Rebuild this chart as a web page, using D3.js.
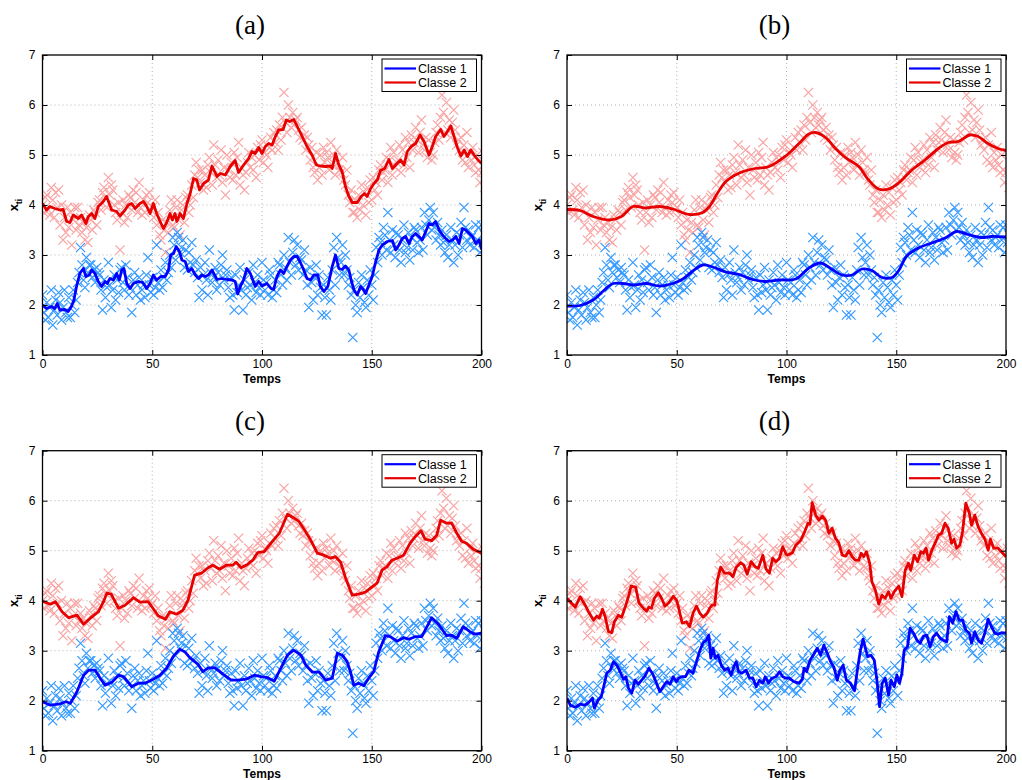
<!DOCTYPE html>
<html><head><meta charset="utf-8">
<script src="https://cdn.jsdelivr.net/npm/d3@7"></script>
<style>
body{margin:0;background:#fff;}
svg{display:block;}
text{font-family:"Liberation Sans",Arial,sans-serif;}
</style></head>
<body>
<svg id="chart" width="1022" height="780"></svg>
<script>
// ---------------- DATA ----------------
const panelLabels = ["(a)", "(b)", "(c)", "(d)"];
const seriesNames = ["Classe 1", "Classe 2"];
const xTicks = [0, 50, 100, 150, 200];
const yTicks = [1, 2, 3, 4, 5, 6, 7];
const xLabel = "Temps";

// observations: three per time step (t = 0,2,...,200)
const obsTimes = d3.range(0, 201, 2);
const obsClass2 = [
[4.0,3.85,4.15],[4.2,3.9,3.8],[4.35,4.1,3.75],[4.25,3.95,4.3],[3.6,4.0,3.3],[3.75,3.45,3.95],[3.55,3.85,3.2],[3.7,3.95,3.5],[3.95,3.6,3.75],[3.45,3.65,3.3],
[3.55,3.25,3.8],[3.7,3.5,3.9],[3.85,3.6,4.05],[4.1,3.9,4.25],[4.35,4.15,3.95],[4.55,4.2,4.4],[4.3,4.0,3.85],[3.7,4.05,3.1],[3.85,4.1,3.65],[4.0,3.75,4.2],
[4.15,3.9,4.3],[4.05,4.25,3.85],[4.45,3.95,3.8],[4.1,3.85,4.2],[4.05,4.25,3.9],[3.95,3.75,4.1],[3.6,3.85,3.4],[3.3,3.7,3.5],[3.05,3.65,3.45],[3.9,4.1,3.6],
[3.55,3.95,4.1],[3.7,3.4,3.9],[4.0,3.65,4.15],[4.2,3.85,4.0],[4.4,4.15,4.6],[4.85,4.55,4.7],[4.45,4.7,4.3],[4.6,4.35,4.8],[4.95,4.65,4.4],[5.2,4.8,4.55],
[4.9,4.6,5.1],[4.45,4.75,4.2],[5.0,4.7,4.55],[4.85,4.5,5.05],[4.6,4.95,5.25],[4.4,4.75,4.6],[4.3,4.65,4.85],[5.05,4.75,4.95],[4.7,5.0,4.55],[5.15,4.9,5.2],
[5.3,4.85,5.05],[5.0,4.75,5.15],[5.35,5.1,5.45],[5.25,5.5,5.1],[5.6,5.3,5.75],[6.25,5.65,5.45],[6.0,5.75,5.55],[5.85,5.6,5.7],[5.75,5.5,5.35],[5.55,5.3,5.4],
[5.1,5.35,5.2],[4.9,5.15,4.75],[4.65,5.05,4.5],[4.75,5.0,4.6],[5.15,4.85,5.05],[4.95,4.7,5.25],[4.8,5.0,4.6],[5.1,4.85,4.7],[4.65,4.95,4.5],[4.4,4.7,4.2],
[4.05,4.3,3.85],[3.85,4.1,3.75],[4.2,3.9,4.4],[4.0,4.25,3.8],[4.35,4.05,4.5],[4.1,4.55,4.3],[4.45,4.2,4.7],[4.8,4.5,4.65],[4.7,4.95,4.45],[4.9,5.15,4.6],
[5.05,4.75,4.85],[4.9,5.2,4.65],[5.1,4.8,5.35],[4.95,5.25,4.75],[5.4,5.1,5.25],[5.55,5.3,5.05],[5.45,5.7,5.2],[5.1,5.35,4.95],[5.3,5.05,4.9],[5.0,5.25,5.45],
[5.6,5.3,5.75],[6.2,5.85,5.45],[6.05,5.5,5.7],[5.35,5.65,5.9],[5.5,5.2,5.3],[5.1,5.35,4.9],[5.2,4.85,5.45],[4.75,5.05,4.9],[5.15,4.8,4.65],[5.0,4.7,4.45],
[4.65,5.05,4.35]];
const obsClass1 = [
[2.2,1.85,1.7],[2.05,1.75,1.95],[2.3,1.6,1.9],[2.1,1.8,2.25],[2.05,1.7,1.95],[2.3,1.85,1.75],[2.15,1.75,2.0],[2.3,1.85,2.1],[2.45,2.65,3.15],[2.8,2.5,2.35],
[2.95,2.65,2.8],[2.8,2.55,2.7],[2.45,2.75,2.65],[2.6,2.3,1.9],[2.5,2.15,2.35],[2.85,2.4,1.95],[2.3,2.6,2.1],[2.5,2.25,2.7],[2.75,2.45,2.3],[2.8,2.55,2.2],
[2.35,1.85,2.5],[2.65,2.2,2.4],[2.55,2.1,2.3],[2.4,2.15,2.6],[2.95,2.4,2.25],[2.55,2.2,2.35],[3.2,2.45,2.3],[2.7,2.35,2.55],[2.85,2.5,2.65],[3.0,2.75,3.35],
[3.2,2.9,3.45],[3.35,3.05,3.15],[3.3,2.75,3.1],[2.7,3.05,2.85],[3.25,2.8,2.65],[2.9,2.55,2.15],[2.75,2.3,2.6],[2.85,2.5,2.2],[3.1,2.65,2.45],[2.55,2.75,2.3],
[2.65,2.4,2.8],[3.0,2.5,2.6],[2.7,2.35,2.15],[2.55,2.2,1.9],[2.6,2.25,2.4],[2.75,2.3,1.9],[2.5,2.2,2.35],[2.65,2.4,2.1],[2.8,2.45,2.25],[2.6,2.35,2.2],
[2.85,2.5,2.3],[2.45,2.2,2.7],[2.6,2.15,2.3],[2.5,2.25,2.85],[2.8,2.6,2.4],[3.0,2.75,2.5],[3.35,2.85,2.6],[3.05,3.3,2.8],[3.2,2.7,2.95],[2.9,2.6,3.1],
[2.7,2.4,1.95],[2.75,2.45,2.1],[2.55,2.8,2.2],[2.6,2.35,1.8],[2.4,2.15,1.8],[2.55,2.3,2.1],[2.7,3.15,2.4],[3.35,2.95,2.6],[2.85,3.2,2.6],[3.0,2.7,2.4],
[2.55,2.2,1.35],[2.3,2.0,1.85],[2.45,2.15,2.6],[2.35,2.05,1.95],[2.5,2.2,2.7],[2.4,2.1,2.6],[3.15,2.85,3.35],[3.25,3.0,3.55],[3.4,3.1,3.85],[3.3,3.05,3.5],
[3.2,2.95,3.45],[3.4,3.1,2.85],[3.3,3.6,3.05],[3.15,3.45,2.9],[3.35,3.1,3.55],[3.5,3.25,3.05],[3.3,3.55,3.1],[3.85,3.6,3.4],[3.7,3.95,3.5],[3.85,3.55,3.3],
[3.65,3.4,3.2],[3.5,3.25,3.05],[3.4,2.95,3.2],[3.55,3.3,2.85],[3.2,3.45,3.0],[3.4,3.65,3.15],[3.95,3.55,3.3],[3.5,3.2,3.35],[3.4,3.15,3.6],[3.3,3.55,3.05],
[3.6,3.25,3.4]];

// fitted trajectories [t, value]
const fitA1 = [[0,2.0],[1.8,1.93],[4.1,1.97],[5.6,1.93],[6.7,2.03],[7.9,1.9],[10.2,1.91],[11.7,1.87],[13.2,1.97],[14.3,2.1],[15.5,2.37],[17,2.63],[18.6,2.73],[19.8,2.57],[21.3,2.6],[22.4,2.7],[23.9,2.63],[25.4,2.47],[26.9,2.37],[28.5,2.47],[29.5,2.43],[30.7,2.53],[32.3,2.5],[33.8,2.63],[35,2.5],[36.1,2.7],[37.1,2.73],[38.4,2.43],[39.9,2.33],[41.4,2.43],[43.7,2.47],[45.7,2.45],[47.5,2.33],[49,2.43],[50.5,2.6],[52,2.5],[53.9,2.57],[55.9,2.57],[57.4,2.7],[58.4,3.0],[59.7,3.03],[60.9,3.17],[62.4,3.07],[63.5,2.9],[65,2.87],[66.5,2.67],[68,2.73],[69.6,2.6],[71.1,2.53],[72.6,2.6],[74.1,2.57],[75.6,2.6],[77.2,2.7],[79.5,2.51],[81.7,2.53],[84,2.51],[86.3,2.5],[87.8,2.47],[88.9,2.22],[90.1,2.37],[91.6,2.5],[93.1,2.73],[94.7,2.63],[96.9,2.37],[98.5,2.47],[100,2.38],[102.3,2.43],[104.1,2.33],[105.3,2.31],[106.8,2.57],[108.4,2.7],[109.9,2.63],[111.4,2.77],[112.9,2.9],[114.5,2.97],[116,2.97],[117.5,2.85],[119,2.7],[120.5,2.53],[122.1,2.5],[123.6,2.6],[125.4,2.6],[126.6,2.37],[128.2,2.27],[130,2.37],[132,2.77],[133.5,3.0],[135,2.73],[136.5,2.71],[138,2.78],[139.6,2.7],[140.6,2.5],[141.9,2.3],[143.4,2.2],[144.9,2.37],[146.1,2.31],[147.2,2.23],[148.7,2.4],[150.2,2.57],[151.7,2.85],[153.3,3.1],[154.8,3.2],[157.1,3.27],[159.4,3.29],[160.9,3.1],[162.4,3.2],[163.9,3.33],[165.4,3.37],[167,3.23],[168.5,3.37],[170,3.43],[171.5,3.37],[173,3.3],[174.6,3.47],[176.1,3.63],[177.6,3.6],[179.1,3.67],[180.7,3.5],[182.2,3.4],[183.7,3.33],[185.2,3.27],[186.8,3.3],[188.3,3.37],[189.8,3.23],[191.3,3.53],[192.8,3.5],[194.4,3.43],[195.9,3.37],[197.4,3.23],[198.9,3.3],[200,3.11]];
const fitA2 = [[0,4.03],[1.8,3.9],[3.3,3.97],[5.6,3.93],[7.9,3.9],[9.4,3.91],[11,3.67],[12.5,3.65],[14,3.8],[16.3,3.73],[17.8,3.8],[19.8,3.63],[20.9,3.77],[22.4,3.83],[23.9,3.73],[25.4,3.97],[27.7,4.07],[29.2,4.17],[31.5,3.9],[33.8,3.87],[35.3,3.78],[37.6,3.9],[39.1,4.0],[40.6,4.03],[42.2,3.93],[44.4,4.03],[46,4.07],[47.5,3.97],[49,3.83],[50.5,4.03],[52,3.83],[53.6,3.67],[55.1,3.53],[56.6,3.65],[58.1,3.83],[59.2,3.7],[60.4,3.83],[61.2,3.67],[62.7,3.83],[64.2,3.73],[65.8,4.03],[67.3,4.23],[68.8,4.53],[70.3,4.5],[71.5,4.3],[73.4,4.43],[75.6,4.5],[77.2,4.78],[79.5,4.57],[81,4.63],[83.3,4.6],[85.5,4.77],[87.8,4.89],[89.3,4.65],[91.6,4.8],[93.9,4.93],[95.4,5.07],[96.9,5.03],[98.5,5.15],[100,5.03],[101.5,5.17],[103,5.23],[104.6,5.2],[106.1,5.37],[107.6,5.5],[109.6,5.51],[111.1,5.7],[112.6,5.67],[114.5,5.71],[116.3,5.55],[118.3,5.37],[120.5,5.17],[122.8,5.0],[124.8,4.8],[126.6,4.78],[128.9,4.77],[131.2,4.78],[132,4.73],[133.5,5.03],[135,4.8],[136.5,4.67],[138,4.37],[139.6,4.17],[141.1,4.05],[143.4,4.05],[145.2,4.17],[146.7,4.23],[147.9,4.17],[149.5,4.33],[151,4.43],[152.5,4.5],[154,4.69],[155.9,4.73],[157.8,4.91],[159.4,4.73],[161.3,4.82],[163.2,4.9],[164.7,4.8],[166.2,5.07],[168,5.17],[170,5.23],[172,5.4],[173.8,5.27],[176.1,5.0],[177.6,5.17],[179.1,5.37],[181.4,5.51],[182.9,5.37],[184.2,5.45],[186,5.58],[187.5,5.37],[189,5.15],[190.6,4.98],[192.1,5.1],[193.6,4.97],[195.1,5.1],[196.6,5.0],[198.2,4.91],[200,4.83]];
const fitB1 = [[0,1.98],[5.9,1.99],[11.9,2.1],[16.5,2.28],[21,2.43],[25.5,2.43],[30.1,2.4],[36.1,2.43],[42.2,2.38],[48.2,2.43],[52.8,2.52],[57.3,2.68],[61.8,2.8],[66.4,2.76],[72.4,2.66],[78.5,2.61],[84.5,2.51],[90.6,2.47],[96.6,2.5],[104.2,2.52],[110.2,2.74],[115.5,2.84],[120.8,2.71],[125.3,2.6],[129.9,2.6],[134.4,2.72],[138.9,2.69],[143.5,2.55],[148,2.55],[151,2.68],[154.8,2.98],[160.1,3.14],[166.1,3.24],[172.2,3.34],[177.5,3.47],[182.8,3.41],[188.8,3.35],[193.4,3.37],[200,3.36]];
const fitB2 = [[0,3.91],[5.9,3.89],[11.9,3.77],[19.5,3.7],[24.8,3.77],[30.1,3.97],[36.1,3.94],[42.2,3.97],[48.2,3.92],[55.8,3.81],[61.8,3.85],[64.9,3.97],[68.6,4.24],[72.4,4.47],[78.5,4.64],[84.5,4.72],[92.1,4.77],[99.6,4.98],[105.7,5.23],[110.2,5.42],[113.2,5.45],[117.8,5.35],[122.3,5.13],[126.8,4.95],[132.9,4.77],[137.4,4.5],[141.9,4.32],[146.5,4.32],[151,4.44],[157.1,4.7],[163.1,4.9],[169.2,5.13],[173.7,5.25],[178.2,5.27],[183.5,5.4],[187.3,5.37],[191.8,5.23],[196.4,5.13],[200,5.09]];
const fitC1 = [[0,1.98],[3.6,1.91],[7.4,1.93],[10.7,1.98],[12.7,1.95],[15.7,2.18],[18.7,2.51],[21,2.61],[24,2.61],[26.3,2.45],[28.5,2.31],[31.6,2.37],[34.6,2.51],[36.9,2.48],[40.6,2.28],[43.7,2.35],[46.7,2.35],[50.5,2.43],[53.5,2.51],[56.5,2.65],[59.5,2.88],[62.5,3.03],[64.8,2.98],[67.1,2.86],[70.8,2.73],[73.1,2.58],[75.4,2.65],[78.4,2.66],[82.2,2.53],[86,2.41],[89,2.41],[92.7,2.43],[96.5,2.51],[99.5,2.48],[102.6,2.46],[105.6,2.39],[108.6,2.65],[111.6,2.91],[114.4,3.01],[117.7,2.91],[120,2.71],[123,2.57],[126,2.57],[129,2.41],[132,2.45],[134.3,2.95],[136.6,2.91],[138.8,2.78],[140.3,2.58],[141.8,2.31],[144.1,2.35],[146.4,2.3],[148.6,2.45],[150.9,2.58],[153.2,2.98],[156.2,3.3],[158.5,3.28],[161.5,3.19],[164.5,3.26],[166.8,3.23],[169.8,3.28],[172.8,3.28],[177.3,3.66],[180.4,3.53],[184.1,3.3],[186.4,3.31],[188.7,3.25],[191.7,3.48],[194.7,3.38],[197,3.33],[200,3.35]];
const fitC2 = [[0,3.99],[3.6,3.93],[5.9,3.98],[8.9,3.78],[11.9,3.66],[15.7,3.71],[18.7,3.53],[21.8,3.65],[25.5,3.78],[27.8,3.98],[29.3,4.15],[31.3,4.13],[34.6,3.85],[37.6,3.91],[41.4,4.06],[44.4,3.97],[48.2,3.98],[52.7,3.7],[56,3.63],[58,3.78],[61,3.73],[64,3.81],[66.3,4.01],[69.3,4.51],[72.4,4.55],[75.4,4.66],[77.6,4.71],[80.7,4.63],[83.7,4.71],[86.7,4.71],[88.2,4.77],[90.5,4.66],[93.5,4.73],[95.8,4.81],[98,4.96],[101,4.98],[104.1,5.15],[107.9,5.35],[111.6,5.73],[114.7,5.65],[116.9,5.58],[119.2,5.43],[122.2,5.21],[125.2,4.95],[128.2,4.91],[131.3,4.85],[133.5,4.88],[135.8,4.77],[138.1,4.45],[141.1,4.11],[144.1,4.13],[147.1,4.17],[149.4,4.25],[152.4,4.35],[154.7,4.61],[157,4.68],[159.2,4.81],[161.5,4.85],[164.5,4.91],[167.5,5.15],[169.8,5.28],[172.4,5.4],[174.3,5.23],[177.3,5.2],[179.6,5.31],[181.4,5.61],[184.1,5.55],[186.4,5.55],[188.4,5.38],[190.9,5.19],[193.2,5.15],[196.2,5.03],[200,4.95]];
const fitD1 = [[0,2.05],[1.5,1.91],[3.8,1.87],[6,1.93],[8,1.91],[9.8,1.96],[11.6,2.05],[12.5,1.85],[14.1,2.01],[15.6,2.08],[17.1,2.35],[18.1,2.55],[19.7,2.61],[21.2,2.78],[22.7,2.71],[24.2,2.58],[25.7,2.43],[26.8,2.48],[28,2.25],[29.5,2.15],[31,2.41],[32.5,2.33],[34,2.41],[35.5,2.49],[37.3,2.65],[38.9,2.55],[40.8,2.35],[42.3,2.18],[43.8,2.28],[45.4,2.38],[46.9,2.33],[48.4,2.48],[49.9,2.38],[50.9,2.45],[52.2,2.48],[54,2.48],[55.5,2.61],[57.4,2.55],[59,2.78],[60.5,3.0],[62,3.16],[63.5,3.21],[64.6,3.31],[65.5,2.85],[66.5,3.05],[67.6,2.85],[68.8,2.91],[70.3,2.71],[71.8,2.61],[73.3,2.65],[74.8,2.51],[76,2.68],[77.1,2.78],[78.2,2.58],[79.7,2.55],[81.6,2.61],[83.2,2.45],[84.7,2.45],[86.2,2.28],[87.7,2.41],[89.2,2.35],[90.3,2.48],[91.8,2.35],[93.3,2.45],[95.2,2.48],[96.8,2.58],[98.3,2.48],[99.8,2.45],[101.2,2.45],[103.4,2.38],[105.7,2.35],[107.2,2.43],[108,2.65],[109.2,2.58],[110.7,2.81],[112.2,2.91],[114,3.05],[115.5,2.91],[117,3.11],[118.6,2.95],[120.1,2.78],[121.6,2.67],[123.1,2.41],[124.3,2.61],[125.8,2.71],[127.3,2.41],[129.1,2.35],[131,2.2],[132.5,2.68],[133.7,3.01],[134.9,3.23],[135.9,3.05],[137,2.88],[138.5,2.91],[140,2.81],[141.2,2.41],[142.4,1.88],[143.6,2.35],[145,2.45],[146.5,2.11],[147.6,2.41],[149.1,2.28],[150.3,2.51],[151.5,2.35],[152.6,2.55],[153.6,3.01],[155.1,3.08],[156.3,3.45],[157.9,3.35],[159.4,3.21],[160.9,3.15],[162.4,3.29],[163.9,3.31],[165.4,3.08],[166.9,3.28],[168.4,3.35],[170,3.25],[171.5,3.21],[173,3.18],[174.2,3.68],[175.7,3.55],[177.2,3.78],[178.7,3.61],[180.2,3.61],[181.7,3.41],[183.3,3.35],[184.3,3.15],[185.8,3.38],[187.3,3.21],[188.8,3.15],[190.4,3.36],[191.9,3.63],[193.4,3.48],[194.9,3.35],[196.4,3.33],[197.9,3.36],[200,3.35]];
const fitD2 = [[0,4.05],[1.5,3.98],[3.8,3.87],[6,4.08],[8.3,3.91],[9.8,3.78],[12.1,3.61],[13.6,3.69],[14.7,3.65],[16.2,3.83],[17.4,3.68],[18.9,3.38],[20.4,3.36],[21.6,3.58],[23.4,3.71],[24.9,3.67],[26.8,3.91],[28,4.08],[29.2,4.29],[31.3,4.27],[32.8,3.95],[34.8,3.85],[36.3,3.79],[37.3,3.87],[38.5,3.85],[39.8,4.05],[41.6,4.16],[43.1,4.05],[44.6,3.89],[46.4,3.96],[48.4,4.09],[49.9,4.01],[50.9,3.85],[52.5,3.55],[54.4,3.58],[55.9,3.48],[57.4,3.75],[59,3.89],[60.5,3.75],[62,3.67],[63.9,3.75],[65,3.85],[66.1,3.91],[67.3,3.91],[68.5,4.41],[70,4.67],[71.8,4.55],[74.1,4.55],[75.6,4.48],[77.1,4.67],[79.1,4.76],[80.6,4.71],[82.1,4.53],[83.9,4.78],[85.7,4.68],[87.2,4.65],[89.2,4.91],[90.7,4.63],[92.2,4.55],[93.7,4.85],[95.2,4.78],[96.8,4.85],[98.3,5.08],[99.8,4.93],[100.4,4.91],[102.7,4.96],[104.2,5.11],[106.5,5.21],[108,5.35],[109.8,5.55],[110.7,5.53],[111.7,5.96],[113.3,5.71],[114.8,5.61],[116.3,5.69],[117.8,5.61],[119.3,5.35],[120.8,5.45],[122.3,5.25],[123.8,5.16],[125.4,4.91],[126.9,4.89],[128.4,5.0],[129.9,4.88],[131.4,4.81],[132.9,4.81],[134,4.95],[135.2,4.88],[136.4,4.98],[137.9,4.75],[138.9,4.38],[140.5,4.21],[142,3.93],[143.5,4.11],[145,4.05],[146.5,4.18],[147.6,4.05],[149.1,4.18],[151.1,4.29],[152.6,4.08],[154.1,4.61],[155.6,4.75],[156.6,4.61],[158.2,4.91],[159.7,4.78],[161.2,4.98],[162.4,4.95],[163.6,5.05],[164.7,4.81],[166.2,5.01],[167.7,5.15],[169.2,5.31],[170.7,5.35],[172.2,5.55],[173.7,5.45],[175.2,5.15],[176.3,5.23],[177.5,5.05],[179,5.11],[180.2,5.38],[181.7,5.95],[183.3,5.75],[184.3,5.51],[185.8,5.71],[187.3,5.48],[188.8,5.35],[190.4,5.23],[191.9,5.01],[192.9,5.23],[194.4,5.05],[196.4,5.05],[197.9,4.98],[200,4.88]];

const fits = [[fitA1, fitA2], [fitB1, fitB2], [fitC1, fitC2], [fitD1, fitD2]];
const smoothPanel = [false, true, false, false];

// ---------------- DRAW ----------------
const lineColors = ["#0000ff", "#e60000"];
const obsColors = ["#3399ff", "#f9a3a3"];
const svg = d3.select("#chart");
const panels = [
  {left: 42.5, top: 55, w: 439, h: 300},
  {left: 567, top: 55, w: 439, h: 300},
  {left: 42.5, top: 450.7, w: 439, h: 300},
  {left: 567, top: 450.7, w: 439, h: 300}
];

panels.forEach((p, i) => {
  const g = svg.append("g").attr("transform", `translate(${p.left},${p.top})`);
  const x = d3.scaleLinear().domain([0, 200]).range([0, p.w]);
  const y = d3.scaleLinear().domain([1, 7]).range([p.h, 0]);

  // title
  svg.append("text").attr("x", p.left + p.w / 2 - 12).attr("y", p.top - 21)
    .attr("text-anchor", "middle")
    .style("font-family", "'Liberation Serif','DejaVu Serif',serif")
    .style("font-size", "27px").text(panelLabels[i]);

  // grid
  const grid = g.append("g").attr("stroke", "#a0a0a0").attr("stroke-width", 0.8).attr("stroke-dasharray", "1,3");
  xTicks.slice(1, -1).forEach(t => grid.append("line").attr("x1", x(t)).attr("x2", x(t)).attr("y1", 0).attr("y2", p.h));
  yTicks.slice(1, -1).forEach(t => grid.append("line").attr("x1", 0).attr("x2", p.w).attr("y1", y(t)).attr("y2", y(t)));

  const clipId = "clip" + i;
  g.append("clipPath").attr("id", clipId).append("rect").attr("width", p.w).attr("height", p.h);
  const plot = g.append("g").attr("clip-path", `url(#${clipId})`);

  // observations
  const cs = 4.6;
  [obsClass2, obsClass1].forEach((obs, k) => {
    const col = k === 0 ? obsColors[1] : obsColors[0];
    const pts = [];
    obs.forEach((trip, j) => trip.forEach((v, m) => pts.push([obsTimes[j] + m * 0.67, v])));
    plot.append("g").selectAll("path").data(pts).join("path")
      .attr("d", d => {
        const cx = x(d[0]), cy = y(d[1]);
        return `M${cx - cs},${cy - cs}L${cx + cs},${cy + cs}M${cx - cs},${cy + cs}L${cx + cs},${cy - cs}`;
      })
      .attr("stroke", col).attr("stroke-width", 1.2).attr("fill", "none");
  });

  // fitted lines
  const line = d3.line().x(d => x(d[0])).y(d => y(d[1]))
    .curve(smoothPanel[i] ? d3.curveCatmullRom.alpha(0.5) : d3.curveLinear);
  fits[i].forEach((f, k) => {
    plot.append("path").datum(f).attr("d", line)
      .attr("fill", "none").attr("stroke", lineColors[k]).attr("stroke-width", 2.8)
      .attr("stroke-linejoin", "round");
  });

  // axes (ticks inward, box)
  const ax = g.append("g");
  const xb = ax.append("g").attr("transform", `translate(0,${p.h})`)
    .call(d3.axisBottom(x).tickValues(xTicks).tickSize(-5).tickPadding(4).tickFormat(d3.format("d")));
  const xt = ax.append("g").call(d3.axisTop(x).tickValues(xTicks).tickSize(-5).tickFormat(""));
  const yl = ax.append("g").call(d3.axisLeft(y).tickValues(yTicks).tickSize(-5).tickPadding(7).tickFormat(d3.format("d")));
  const yr = ax.append("g").attr("transform", `translate(${p.w},0)`)
    .call(d3.axisRight(y).tickValues(yTicks).tickSize(-5).tickFormat(""));
  [xb, xt, yl, yr].forEach(a => {
    a.select(".domain").remove();
    a.selectAll("line").attr("stroke", "#000").attr("stroke-width", 1);
    a.selectAll("text").style("font-family", "'Liberation Sans',Arial,sans-serif").style("font-size", "12px").attr("fill", "#000");
  });
  g.append("rect").attr("width", p.w).attr("height", p.h).attr("fill", "none").attr("stroke", "#000").attr("stroke-width", 1.3);

  // axis labels
  g.append("text").attr("x", p.w / 2).attr("y", p.h + 27.5).attr("text-anchor", "middle")
    .style("font-weight", "bold").style("font-size", "12px").text(xLabel);
  const yt = g.append("text").attr("transform", `translate(${-25},${p.h / 2}) rotate(-90)`)
    .attr("text-anchor", "middle").style("font-weight", "bold").style("font-size", "13px");
  yt.append("tspan").text("x");
  yt.append("tspan").attr("dy", 4).style("font-size", "9px").text("ti");

  // legend
  const lg = g.append("g").attr("transform", `translate(${p.w - 99.5},4)`);
  lg.append("rect").attr("width", 94.5).attr("height", 32.5).attr("fill", "#fff").attr("stroke", "#000").attr("stroke-width", 1);
  seriesNames.forEach((s, k) => {
    const ly = 9.5 + k * 14;
    lg.append("line").attr("x1", 2.5).attr("x2", 34).attr("y1", ly).attr("y2", ly)
      .attr("stroke", lineColors[k]).attr("stroke-width", 2.2);
    lg.append("text").attr("x", 36).attr("y", ly + 4.5).style("font-size", "12.5px").text(s);
  });
});
</script>
</body></html>
